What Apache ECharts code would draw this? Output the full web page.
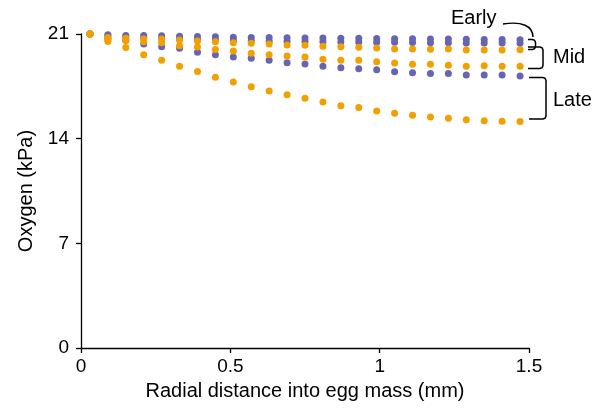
<!DOCTYPE html>
<html>
<head>
<meta charset="utf-8">
<script src="https://cdn.jsdelivr.net/npm/echarts@6/dist/echarts.min.js"></script>
<style>html,body{margin:0;padding:0;background:#fff}#c{width:603px;height:409px}</style>
</head>
<body>
<div id="c"></div>
<script>
// Radial distance into egg mass (mm)
var distances = [0.03,0.09,0.15,0.21,0.27,0.33,0.39,0.45,0.51,0.57,0.63,0.69,0.75,0.81,0.87,0.93,0.99,1.05,1.11,1.17,1.23,1.29,1.35,1.41,1.47];
// Oxygen (kPa)
var blueTop   = [21.0,20.95,20.9,20.9,20.88,20.85,20.83,20.81,20.79,20.77,20.76,20.75,20.74,20.73,20.72,20.71,20.7,20.69,20.68,20.67,20.66,20.65,20.64,20.63,20.62];
var blueUpper = [21.0,20.88,20.8,20.75,20.7,20.67,20.64,20.6,20.56,20.54,20.52,20.5,20.49,20.48,20.47,20.46,20.45,20.44,20.43,20.42,20.41,20.4,20.4,20.39,20.38];
var orangeUpper = [21.0,20.76,20.72,20.67,20.67,20.6,20.54,20.49,20.42,20.38,20.33,20.27,20.25,20.18,20.15,20.11,20.07,20.0,20.0,19.98,20.0,19.93,19.93,19.93,19.95];
var orangeMid = [21.0,20.6,20.56,20.49,20.42,20.22,20.13,19.97,19.87,19.71,19.62,19.53,19.46,19.31,19.24,19.24,19.15,19.06,18.98,18.98,18.91,18.84,18.88,18.84,18.84];
var blueLower = [21.0,20.7,20.58,20.33,20.15,20.05,19.78,19.62,19.46,19.38,19.24,19.08,19.0,18.84,18.75,18.68,18.61,18.48,18.41,18.35,18.35,18.26,18.26,18.26,18.19];
var orangeLate = [21.0,20.5,20.09,19.62,19.24,18.84,18.5,18.1,17.79,17.48,17.19,16.94,16.7,16.46,16.2,16.08,15.85,15.7,15.56,15.45,15.36,15.27,15.2,15.16,15.14];
var xTicks = [0, 0.5, 1, 1.5];
var yTicks = [0, 7, 14, 21];
var groupLabels = ['Early', 'Mid', 'Late'];

var BLUE = '#6565b2', ORANGE = '#f2a000';
function pairs(ys){ return distances.map(function(x,i){ return [x, ys[i]]; }); }
function sc(ys, color){
  return {type:'scatter', data:pairs(ys), symbolSize:7, itemStyle:{color:color, opacity:1}, emphasis:{disabled:true}, silent:true};
}
var FONT = 'Liberation Sans, Arial, Helvetica, sans-serif';
var chart = echarts.init(document.getElementById('c'), null, {renderer:'canvas'});
var axisCommon = {
  axisLine:{show:true, onZero:false, lineStyle:{color:'#000', width:1.3}},
  axisTick:{show:true, inside:false, length:5, lineStyle:{color:'#000', width:1.3}},
  splitLine:{show:false},
  nameTextStyle:{color:'#000', fontSize:20, fontFamily:FONT}
};
var LS = {fill:null, stroke:'#000', lineWidth:1.5};
function bracket(x0, x1, y0, y1){
  var r = 3;
  return {type:'polyline', silent:true, shape:{points:[
    [x0,y0],[x1-r,y0],[x1-r*0.3,y0+r*0.3],[x1,y0+r],
    [x1,y1-r],[x1-r*0.3,y1-r*0.3],[x1-r,y1],[x0,y1]
  ]}, style:LS};
}
chart.setOption({
  animation:false,
  grid:{left:81, right:74, top:34, bottom:61, containLabel:false},
  xAxis: Object.assign({}, axisCommon, {
    type:'value', min:xTicks[0], max:xTicks[xTicks.length-1], interval:0.5,
    name:'Radial distance into egg mass (mm)', nameLocation:'middle', nameGap:33,
    axisLabel:{color:'#000', fontSize:19, fontFamily:FONT, margin:9}
  }),
  yAxis: Object.assign({}, axisCommon, {
    type:'value', min:yTicks[0], max:yTicks[yTicks.length-1], interval:7,
    name:'Oxygen (kPa)', nameLocation:'middle', nameGap:44,
    axisLabel:{color:'#000', fontSize:19, fontFamily:FONT, margin:12}
  }),
  series:[
    sc(blueTop, BLUE), sc(blueUpper, BLUE), sc(blueLower, BLUE),
    sc(orangeUpper, ORANGE), sc(orangeMid, ORANGE), sc(orangeLate, ORANGE)
  ],
  graphic:[
    {type:'text', silent:true, x:451, y:8, style:{text:groupLabels[0], fill:'#000', font:'20px '+FONT}},
    {type:'text', silent:true, x:553, y:47, style:{text:groupLabels[1], fill:'#000', font:'20px '+FONT}},
    {type:'text', silent:true, x:553, y:90, style:{text:groupLabels[2], fill:'#000', font:'20px '+FONT}},
    {type:'bezierCurve', silent:true, shape:{x1:503, y1:24, cpx1:522, cpy1:21, cpx2:533, cpy2:26, x2:533, y2:37}, style:LS},
    bracket(528, 535.5, 39.5, 49.5),
    bracket(528, 543, 47, 68.5),
    bracket(529, 546, 77.5, 119)
  ]
});
</script>
</body>
</html>
